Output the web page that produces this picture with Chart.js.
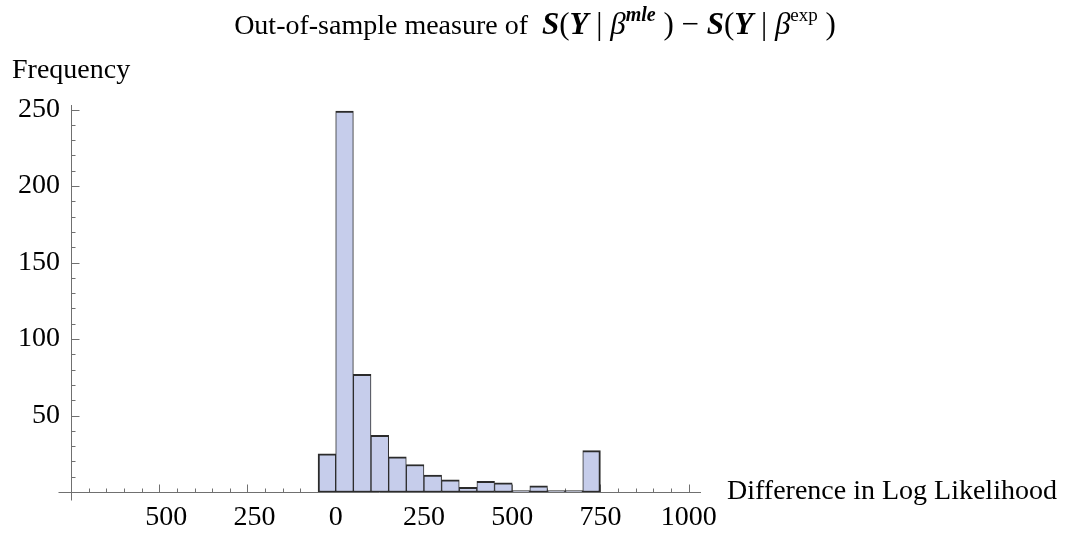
<!DOCTYPE html>
<html>
<head>
<meta charset="utf-8">
<script src="https://cdn.jsdelivr.net/npm/chart.js@4.4.0/dist/chart.umd.min.js"></script>
<style>
  html, body { margin: 0; padding: 0; background: #fff; }
  #wrap { width: 1070px; height: 540px; }
</style>
</head>
<body>
<div id="wrap"><canvas id="hist"></canvas></div>
<script>
// histogram bins (left edges), width 50
const binWidth = 50;
const binStarts = [-50, 0, 50, 100, 150, 200, 250, 300, 350, 400, 450, 500, 550, 600, 650, 700];
const counts = [25, 249, 77, 37, 23, 18, 11, 8, 3, 7, 6, 1, 4, 1, 1, 27];
const xTicks = [-500, -250, 0, 250, 500, 750, 1000];
const yTicks = [50, 100, 150, 200, 250];

const FONT = '"Liberation Serif", "Times New Roman", serif';
const X_ORIGIN = -750;

// axes drawn Mathematica-style: crossing at (-750, 0), ticks pointing inward
const axesPlugin = {
  id: 'crossAxes',
  beforeDatasetsDraw(chart) {
    const { ctx, chartArea, scales: { x, y } } = chart;
    const x0 = Math.round(x.getPixelForValue(X_ORIGIN)) + 0.5;
    const y0 = Math.round(y.getPixelForValue(0)) + 0.5;
    ctx.save();
    ctx.strokeStyle = '#707070';
    ctx.lineWidth = 1;
    ctx.beginPath();
    ctx.moveTo(x0 - 13, y0);
    ctx.lineTo(chartArea.right, y0);
    ctx.moveTo(x0, y0 + 8);
    ctx.lineTo(x0, chartArea.top);
    for (let v = 10; v <= 250; v += 10) {
      const py = Math.round(y.getPixelForValue(v)) + 0.5;
      const len = v % 50 === 0 ? 8 : 4;
      ctx.moveTo(x0, py);
      ctx.lineTo(x0 + len, py);
    }
    for (let v = -700; v <= 1000; v += 50) {
      const px = Math.round(x.getPixelForValue(v)) + 0.5;
      const len = v % 250 === 0 ? 8 : 4;
      ctx.moveTo(px, y0);
      ctx.lineTo(px, y0 - len);
    }
    ctx.stroke();
    ctx.restore();
  }
};

// title with math pieces, plus the two axis labels
const titleParts = [
  { t: 'Out-of-sample measure of  ', f: '', s: 28 },
  { t: 'S', f: 'italic bold ', s: 31 },
  { t: '(', f: '', s: 31 },
  { t: 'Y', f: 'italic bold ', s: 31 },
  { t: ' | ', f: '', s: 31 },
  { t: 'β', f: 'italic ', s: 31 },
  { t: 'mle', f: 'italic bold ', s: 20, sup: true },
  { t: ' ) \u2212 ', f: '', s: 31 },
  { t: 'S', f: 'italic bold ', s: 31 },
  { t: '(', f: '', s: 31 },
  { t: 'Y', f: 'italic bold ', s: 31 },
  { t: ' | ', f: '', s: 31 },
  { t: 'β', f: 'italic ', s: 31 },
  { t: 'exp', f: '', s: 19, sup: true },
  { t: ' )', f: '', s: 31 }
];

const labelsPlugin = {
  id: 'textLabels',
  afterDraw(chart) {
    const { ctx, scales: { y } } = chart;
    ctx.save();
    ctx.fillStyle = '#000';
    ctx.textBaseline = 'alphabetic';
    ctx.textAlign = 'left';
    const fontOf = p => p.f + p.s + 'px ' + FONT;
    let total = 0;
    titleParts.forEach(p => { ctx.font = fontOf(p); total += ctx.measureText(p.t).width; });
    let cx = 535 - total / 2;
    const base = 34;
    titleParts.forEach(p => {
      ctx.font = fontOf(p);
      ctx.fillText(p.t, cx, p.sup ? base - 13 : base);
      cx += ctx.measureText(p.t).width;
    });

    ctx.font = '28px ' + FONT;
    ctx.fillText('Frequency', 12, 78);
    ctx.textBaseline = 'middle';
    ctx.fillText('Difference in Log Likelihood', 727, y.getPixelForValue(0));
    ctx.restore();
  }
};

const points = binStarts.map((s, i) => ({ x: s + binWidth / 2, y: counts[i] }));
const last = points.length - 1;

new Chart(document.getElementById('hist'), {
  type: 'bar',
  data: {
    datasets: [{
      data: points,
      backgroundColor: '#c6cdeb',
      borderColor: '#2b2b2b',
      borderSkipped: false,
      borderWidth: ctx => ({
        top: 2,
        bottom: 1.5,
        left: ctx.dataIndex === 0 ? 2 : 1,
        right: ctx.dataIndex === last ? 2 : 1
      }),
      barPercentage: 1,
      categoryPercentage: 1
    }]
  },
  options: {
    responsive: true,
    maintainAspectRatio: false,
    animation: false,
    layout: { padding: { top: 105, right: 369, bottom: 0, left: 0 } },
    plugins: {
      legend: { display: false },
      tooltip: { enabled: false },
      title: { display: false }
    },
    scales: {
      x: {
        type: 'linear',
        offset: false,
        min: X_ORIGIN,
        max: 1035,
        grid: { display: false, drawTicks: false, offset: false },
        border: { display: false },
        afterBuildTicks: s => { s.ticks = xTicks.map(v => ({ value: v })); },
        afterFit: s => {
          s.height = 48;
          s.paddingLeft = 0;
          s.paddingRight = 0;
        },
        ticks: {
          font: { family: FONT, size: 28 },
          color: '#000',
          padding: 9,
          maxRotation: 0,
          autoSkip: false,
          callback: v => (v < 0 ? '\u2007' + Math.abs(v) : String(v))
        }
      },
      y: {
        type: 'linear',
        min: 0,
        max: 253,
        grid: { display: false, drawTicks: false },
        border: { display: false },
        afterBuildTicks: s => { s.ticks = yTicks.map(v => ({ value: v })); },
        afterFit: s => {
          s.width = 71;
          s.paddingTop = 0;
          s.paddingBottom = 0;
        },
        ticks: {
          font: { family: FONT, size: 28 },
          color: '#000',
          padding: 11,
          autoSkip: false
        }
      }
    }
  },
  plugins: [axesPlugin, labelsPlugin]
});
</script>
</body>
</html>
